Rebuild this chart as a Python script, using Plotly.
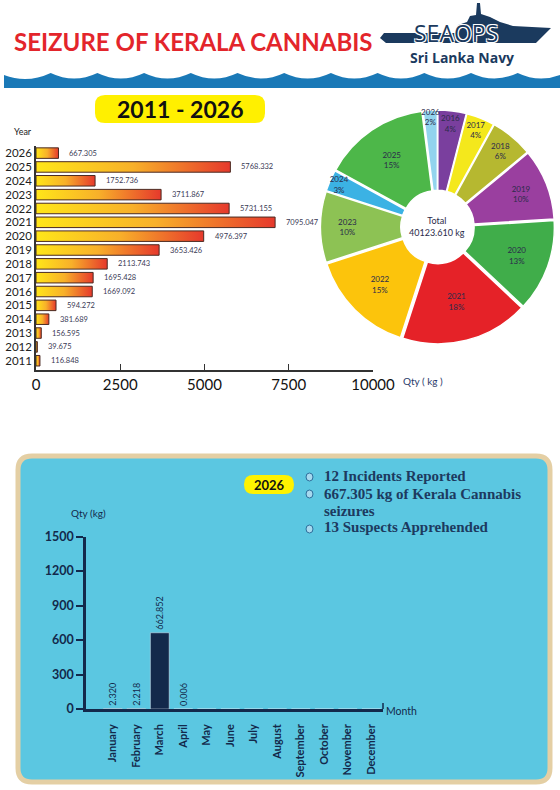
import plotly.graph_objects as go

W, H = 560, 790

# yearly seizures (kg), 2011 -> 2026
years = ["2011", "2012", "2013", "2014", "2015", "2016", "2017", "2018",
         "2019", "2020", "2021", "2022", "2023", "2024", "2025", "2026"]
year_qty = [116.848, 39.675, 156.595, 381.689, 594.272, 1669.092, 1695.428, 2113.743,
            3653.426, 4976.397, 7095.047, 5731.155, 3711.867, 1752.736, 5768.332, 667.305]
qty_ticks = [0, 2500, 5000, 7500, 10000]

# share of total as printed on the doughnut
pie_years = ["2016", "2017", "2018", "2019", "2020", "2021", "2022", "2023", "2024", "2025", "2026"]
pie_share = [4, 4, 6, 10, 13, 18, 15, 10, 3, 15, 2]
pie_colours = ["#7a3f9e", "#f4e81c", "#b6b830", "#9a3f9f", "#40ad4a", "#e52228",
               "#fcc40c", "#8dc254", "#3bb2e4", "#4db749", "#92d4ee"]
total_text = "Total<br>40123.610 kg"

# 2026 by month
months = ["January", "February", "March", "April", "May", "June", "July",
          "August", "September", "October", "November", "December"]
month_qty = [2.320, 2.218, 662.852, 0.006, 0, 0, 0, 0, 0, 0, 0, 0]
month_ticks = [0, 300, 600, 900, 1200, 1500]
facts = ["12 Incidents Reported", "667.305 kg of Kerala Cannabis", "seizures", "13 Suspects Apprehended"]

NAVY = "#13294b"


def px(x):
    return x / W


def py(y):
    return 1 - y / H


def path(points, close=True):
    s = "M " + " L ".join(f"{px(x):.5f},{py(y):.5f}" for x, y in points)
    return s + (" Z" if close else "")


def rounded_rect(x0, y0, x1, y1, r):
    p = [f"M {px(x0 + r):.5f},{py(y0):.5f}",
         f"L {px(x1 - r):.5f},{py(y0):.5f}",
         f"Q {px(x1):.5f},{py(y0):.5f} {px(x1):.5f},{py(y0 + r):.5f}",
         f"L {px(x1):.5f},{py(y1 - r):.5f}",
         f"Q {px(x1):.5f},{py(y1):.5f} {px(x1 - r):.5f},{py(y1):.5f}",
         f"L {px(x0 + r):.5f},{py(y1):.5f}",
         f"Q {px(x0):.5f},{py(y1):.5f} {px(x0):.5f},{py(y1 - r):.5f}",
         f"L {px(x0):.5f},{py(y0 + r):.5f}",
         f"Q {px(x0):.5f},{py(y0):.5f} {px(x0 + r):.5f},{py(y0):.5f} Z"]
    return " ".join(p)


fig = go.Figure()

# horizontal gradient bars, one trace per year so each bar gets its own gradient
half = 0.38
for i, v in enumerate(year_qty):
    fig.add_trace(go.Scatter(
        x=[0, v, v, 0, 0],
        y=[i - half, i - half, i + half, i + half, i - half],
        mode="lines",
        fill="toself",
        fillgradient=dict(type="horizontal",
                          colorscale=[[0, "#ffe619"], [0.5, "#f8b02a"], [1, "#e6392c"]]),
        line=dict(color="#4a2a22", width=1),
        hoverinfo="skip",
        showlegend=False,
        xaxis="x", yaxis="y",
    ))
    fig.add_annotation(x=v, y=i, xref="x", yref="y", text=f"{v:.3f}",
                       showarrow=False, xanchor="left", yanchor="middle", xshift=9,
                       font=dict(size=7.5, color="#3a3a55", family="Lato"))

fig.add_trace(go.Pie(
    labels=pie_years,
    values=pie_share,
    sort=False,
    direction="clockwise",
    rotation=0,
    hole=0.3,
    pull=0.02,
    marker=dict(colors=pie_colours, line=dict(color="white", width=1.5)),
    texttemplate="%{label}<br>%{percent:.0%}",
    textposition="inside",
    insidetextorientation="horizontal",
    textfont=dict(size=8, color="#2b2b4a", family="Lato"),
    domain=dict(x=[px(320), px(555)], y=[py(344), py(110)]),
    showlegend=False,
))

fig.add_trace(go.Bar(
    x=months,
    y=month_qty,
    marker=dict(color=NAVY),
    width=0.8,
    text=[f"{v:.3f}" if v > 0 else "" for v in month_qty],
    textposition="outside",
    textangle=-90,
    constraintext="none",
    textfont=dict(size=9, color=NAVY, family="Lato"),
    cliponaxis=False,
    showlegend=False,
    xaxis="x2", yaxis="y2",
))

fig.update_layout(
    width=W, height=H,
    margin=dict(l=0, r=0, t=0, b=0),
    paper_bgcolor="white",
    plot_bgcolor="rgba(0,0,0,0)",
    font=dict(family="Lato", color="#222"),
    uniformtext=dict(minsize=8, mode="show"),
    xaxis=dict(domain=[px(36), px(373)], range=[0, 10000], tickvals=qty_ticks, tickformat="d",
               showgrid=False, zeroline=False, showline=True, linecolor="#333", linewidth=1.5,
               ticks="inside", ticklen=6, tickcolor="#333", automargin=False,
               tickfont=dict(size=15, color="#111"), anchor="y"),
    yaxis=dict(domain=[py(370), py(145.5)], range=[-0.67, 15.55],
               tickvals=list(range(len(years))), ticktext=years, automargin=False,
               showgrid=False, zeroline=False, showline=True, linecolor="#333", linewidth=1.5,
               ticks="", tickfont=dict(size=11.5, color="#222"), anchor="x"),
    xaxis2=dict(domain=[px(86), px(383)], range=[-1.14, 11.5], automargin=False,
                showgrid=False, zeroline=False, showline=True, linecolor=NAVY, linewidth=2.5,
                tickangle=-90, ticks="", ticklabelstandoff=8,
                tickfont=dict(size=11, color=NAVY, weight="bold"), anchor="y2"),
    yaxis2=dict(domain=[py(709), py(536.5)], range=[0, 1500], tickvals=month_ticks,
                showgrid=False, zeroline=False, showline=True, linecolor=NAVY, linewidth=2.5,
                ticks="outside", ticklen=7, tickwidth=2, tickcolor=NAVY, automargin=False,
                tickfont=dict(size=12.5, color=NAVY, weight="bold"), anchor="x2"),
)

shapes = []
# blue wave band under the header
wave = [f"M {px(4):.5f},{py(88):.5f}", f"L {px(4):.5f},{py(75):.5f}"]
x = 4.0
period = 46.7
while x < W:
    wave.append(f"Q {px(x + period / 2):.5f},{py(84):.5f} {px(x + period):.5f},{py(73):.5f}")
    x += period
wave.append(f"L {px(W):.5f},{py(88):.5f} Z")
shapes.append(dict(type="path", xref="paper", yref="paper", path=" ".join(wave),
                   fillcolor="#1a79b7", line=dict(width=0), layer="below"))

# ship silhouette of the logo
ship = [(380, 38), (384, 33), (455, 33), (458, 25), (467, 22), (470, 16), (476, 15), (477, 3),
        (480, 3), (481, 14), (490, 17), (500, 22), (513, 26), (551, 28), (536, 43), (386, 43)]
shapes.append(dict(type="path", xref="paper", yref="paper", path=path(ship),
                   fillcolor="#1b3a5e", line=dict(width=0), layer="below"))

# yellow pill behind the period
shapes.append(dict(type="path", xref="paper", yref="paper",
                   path=rounded_rect(95, 95, 265, 123, 10),
                   fillcolor="#fff000", line=dict(width=0), layer="below"))

# light blue panel for 2026
shapes.append(dict(type="path", xref="paper", yref="paper",
                   path=rounded_rect(18, 456, 550, 782, 14),
                   fillcolor="#5bc7e1", line=dict(color="#e4cfa4", width=5), layer="below"))
shapes.append(dict(type="path", xref="paper", yref="paper",
                   path=rounded_rect(244, 475, 294, 494, 9.5),
                   fillcolor="#fff200", line=dict(width=0), layer="below"))

# bullet dots
for yy in [477, 494, 529]:
    shapes.append(dict(type="circle", xref="paper", yref="paper",
                       x0=px(306), x1=px(313), y0=py(yy + 4), y1=py(yy - 4),
                       fillcolor="#a7d9ee", line=dict(color="#2d6f9c", width=1)))

# end tick of month axis
shapes.append(dict(type="line", xref="paper", yref="paper",
                   x0=px(383), x1=px(383), y0=py(709), y1=py(703),
                   line=dict(color=NAVY, width=1.5)))
fig.update_layout(shapes=shapes)

ann = [
    dict(x=px(12), y=py(41), text="<b>SEIZURE OF KERALA CANNABIS</b>", xanchor="left",
         font=dict(size=24, color="#e3252b", family="Lato")),
    dict(x=px(456), y=py(33), text="SEAOPS",
         font=dict(size=23, color="#1b3a5e", family="Open Sans",
                   shadow="1px 1px 0 white, -1px -1px 0 white, 1px -1px 0 white, -1px 1px 0 white")),
    dict(x=px(462), y=py(58), text="<b>Sri Lanka Navy</b>",
         font=dict(size=14, color="#1b3a5e", family="Open Sans")),
    dict(x=px(180), y=py(109), text="<b>2011 - 2026</b>",
         font=dict(size=23, color="#111", family="Lato")),
    dict(x=px(12), y=py(131), text="Year", xanchor="left",
         font=dict(size=9, color="#222", family="Lato")),
    dict(x=px(401), y=py(381), text="Qty ( kg )", xanchor="left",
         font=dict(size=10, color="#2b3b6b", family="Lato")),
    dict(x=px(437), y=py(227), text=total_text,
         font=dict(size=9, color="#2b2b4a", family="Lato")),
    dict(x=px(269), y=py(484.5), text="<b>2026</b>",
         font=dict(size=13, color="#111", family="Lato")),
    dict(x=px(88), y=py(513), text="Qty (kg)",
         font=dict(size=10, color=NAVY, family="Lato")),
    dict(x=px(384), y=py(711), text="Month", xanchor="left",
         font=dict(size=10.5, color=NAVY, family="Lato")),
]
for yy, t in zip([476, 494, 511, 527], facts):
    ann.append(dict(x=px(322), y=py(yy), text=f"<b>{t}</b>", xanchor="left",
                    font=dict(size=15, color="#1d3a5f", family="Liberation Serif")))
for a in ann:
    a.setdefault("xanchor", "center")
    fig.add_annotation(xref="paper", yref="paper", showarrow=False, yanchor="middle", **a)

fig.write_html("out.html", config={"displayModeBar": False},
               post_script="document.body.style.margin='0';")
